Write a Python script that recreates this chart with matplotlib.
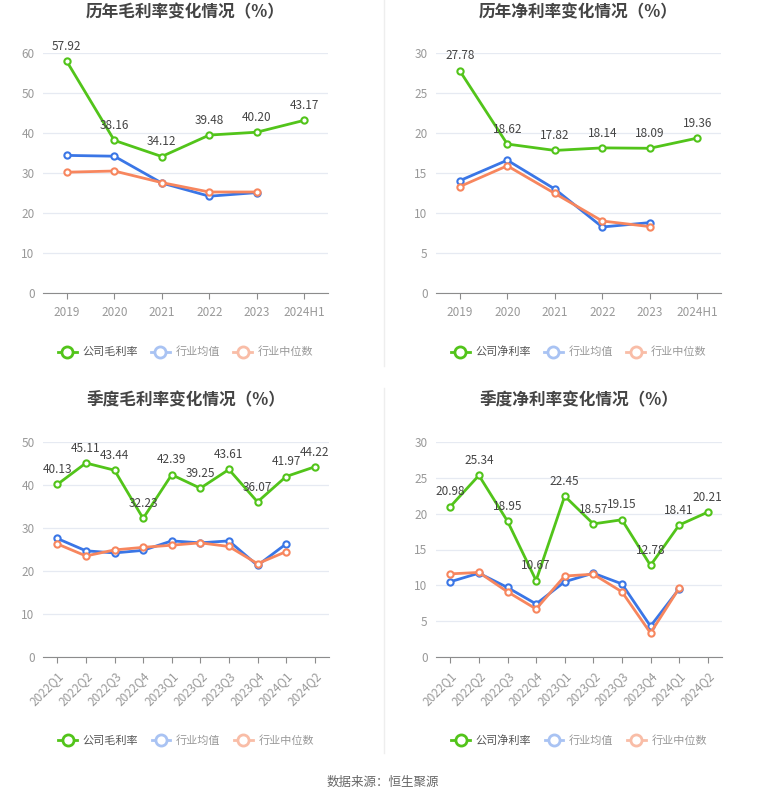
import matplotlib
matplotlib.use('Agg')
import matplotlib.pyplot as plt
from matplotlib.lines import Line2D
import numpy as np

plt.rcParams['font.family'] = ['Noto Sans CJK SC', 'DejaVu Sans']

# 数据
years = ['2019', '2020', '2021', '2022', '2023', '2024H1']
quarters = ['2022Q1', '2022Q2', '2022Q3', '2022Q4', '2023Q1', '2023Q2',
            '2023Q3', '2023Q4', '2024Q1', '2024Q2']

gross_company = [57.92, 38.16, 34.12, 39.48, 40.20, 43.17]
gross_avg = [34.4, 34.2, 27.5, 24.2, 25.1]
gross_median = [30.2, 30.5, 27.6, 25.25, 25.25]

net_company = [27.78, 18.62, 17.82, 18.14, 18.09, 19.36]
net_avg = [14.04, 16.6, 13.0, 8.25, 8.8]
net_median = [13.3, 15.9, 12.45, 9.0, 8.3]

q_gross_company = [40.13, 45.11, 43.44, 32.23, 42.39, 39.25, 43.61, 36.07, 41.97, 44.22]
q_gross_avg = [27.56, 24.7, 24.2, 24.8, 27.0, 26.55, 27.0, 21.3, 26.3]
q_gross_median = [26.3, 23.5, 24.9, 25.5, 26.0, 26.55, 25.7, 21.7, 24.5]

q_net_company = [20.98, 25.34, 18.95, 10.67, 22.45, 18.57, 19.15, 12.78, 18.41, 20.21]
q_net_avg = [10.5, 11.7, 9.7, 7.4, 10.5, 11.7, 10.2, 4.3, 9.5]
q_net_median = [11.6, 11.8, 9.1, 6.7, 11.3, 11.55, 9.1, 3.35, 9.6]

GREEN = '#52c41a'
BLUE = '#3a76e6'
ORANGE = '#f7865e'
BLUE_L = '#a9c3f3'
ORANGE_L = '#f9bda7'

W, H = 765, 801
fig = plt.figure(figsize=(W / 100, H / 100), dpi=100)


def px_axes(left, right, top, bottom):
    return fig.add_axes([left / W, 1 - bottom / H, (right - left) / W, (bottom - top) / H])


def draw_panel(ax, title, title_y, cats, comp, avg, med, ymax, ystep, comp_name, rotate, legend_y):
    x = np.arange(len(cats))
    ax.plot(x, comp, color=GREEN, lw=2, marker='o', ms=4.5, mfc='white', mew=1.5, zorder=4)
    ax.plot(x[:len(avg)], avg, color=BLUE, lw=2, marker='o', ms=4.5, mfc='white', mew=1.5, zorder=3)
    ax.plot(x[:len(med)], med, color=ORANGE, lw=2, marker='o', ms=4.5, mfc='white', mew=1.5, zorder=3)
    for xi, v in zip(x, comp):
        ax.annotate(f'{v:.2f}', (xi, v), xytext=(0, 6), textcoords='offset points',
                    ha='center', va='bottom', fontsize=8.5, color='#444444', zorder=5)
    ax.set_xlim(-0.5, len(cats) - 0.5)
    ax.set_ylim(0, ymax)
    ax.set_yticks(np.arange(0, ymax + 0.1, ystep))
    ax.set_xticks(x)
    if rotate:
        ax.set_xticklabels(cats, rotation=45, ha='right', rotation_mode='anchor')
    else:
        ax.set_xticklabels(cats)
    ax.grid(axis='y', color='#e6eaf2', lw=0.9)
    ax.set_axisbelow(True)
    for s in ['top', 'right', 'left']:
        ax.spines[s].set_visible(False)
    ax.spines['bottom'].set_color('#8c8c8c')
    ax.tick_params(axis='y', length=0, labelsize=8.5, labelcolor='#999999', pad=6)
    ax.tick_params(axis='x', length=4, color='#8c8c8c', labelsize=8.5, labelcolor='#999999', pad=5)

    pos = ax.get_position()
    fig.text(pos.x0 + pos.width / 2, 1 - title_y / H, title, ha='center', va='center',
             fontsize=12, fontweight='bold', color='#444444')

    handles = [
        Line2D([], [], color=GREEN, lw=2, marker='o', ms=8, mfc='white', mew=2),
        Line2D([], [], color=BLUE_L, lw=2, marker='o', ms=8, mfc='white', mew=2),
        Line2D([], [], color=ORANGE_L, lw=2, marker='o', ms=8, mfc='white', mew=2),
    ]
    leg = ax.legend(handles, [comp_name, '行业均值', '行业中位数'], loc='center',
                    bbox_to_anchor=(0.5, legend_y), ncol=3, frameon=False, fontsize=8,
                    handlelength=1.7, columnspacing=1.2, handletextpad=0.5)
    for t, c in zip(leg.get_texts(), ['#555555', '#999999', '#999999']):
        t.set_color(c)


ax1 = px_axes(43, 328, 53, 293)
draw_panel(ax1, '历年毛利率变化情况（%）', 12, years, gross_company, gross_avg, gross_median,
           60, 10, '公司毛利率', False, -0.246)

ax2 = px_axes(436, 721, 53, 293)
draw_panel(ax2, '历年净利率变化情况（%）', 12, years, net_company, net_avg, net_median,
           30, 5, '公司净利率', False, -0.246)

ax3 = px_axes(43, 329, 442, 657)
draw_panel(ax3, '季度毛利率变化情况（%）', 400, quarters, q_gross_company, q_gross_avg, q_gross_median,
           50, 10, '公司毛利率', True, -0.39)

ax4 = px_axes(436, 722, 442, 657)
draw_panel(ax4, '季度净利率变化情况（%）', 400, quarters, q_net_company, q_net_avg, q_net_median,
           30, 5, '公司净利率', True, -0.39)

# 分隔线
fig.add_artist(Line2D([384 / W, 384 / W], [1 - 0 / H, 1 - 366 / H], color='#eeeeee', lw=1))
fig.add_artist(Line2D([384 / W, 384 / W], [1 - 388 / H, 1 - 753 / H], color='#eeeeee', lw=1))

fig.text(383 / W, 1 - 782 / H, '数据来源：恒生聚源', ha='center', va='center',
         fontsize=9, color='#666666')

fig.savefig('out.png', dpi=100, facecolor='white')
